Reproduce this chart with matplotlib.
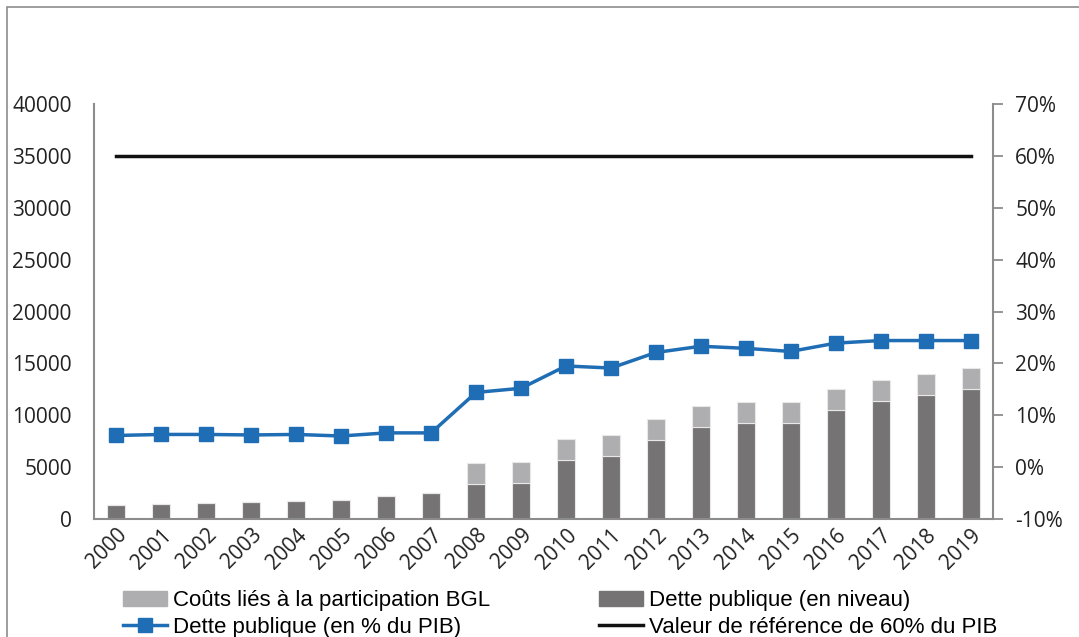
import matplotlib
matplotlib.use("Agg")
import matplotlib.pyplot as plt
import matplotlib.ticker as mtick
from matplotlib.patches import Rectangle
from matplotlib.lines import Line2D
import numpy as np

years = [str(y) for y in range(2000, 2020)]
# public debt in level (dark part of the bars)
dette_niveau = [1350, 1450, 1500, 1600, 1730, 1830, 2250, 2500, 3330, 3500,
                5680, 6070, 7570, 8830, 9210, 9210, 10500, 11330, 11910, 12490]
# costs tied to the BGL participation (stacked on top)
couts_bgl = [0, 0, 0, 0, 0, 0, 0, 0, 2030, 2020,
             2060, 2020, 2030, 2060, 2020, 2050, 2020, 2020, 2020, 2020]
# public debt in % of GDP
dette_pib = [6.1, 6.3, 6.3, 6.2, 6.3, 6.0, 6.6, 6.6, 14.4, 15.2,
             19.5, 19.1, 22.1, 23.3, 22.9, 22.3, 23.9, 24.4, 24.4, 24.4]
reference = [60] * len(years)

c_light = "#aeadaf"
c_dark = "#767374"
c_blue = "#1f6db5"
c_axis = "#8c8c8c"
tick_font = "Open Sans"

fig = plt.figure(figsize=(10.79, 6.37), dpi=100)
fig.patches.append(Rectangle((7 / 1079, -0.1), 1.2, 1 - 7 / 637 + 0.1,
                             transform=fig.transFigure, fill=False,
                             edgecolor="#8c8c8c", lw=1.2))

ax = fig.add_axes([94 / 1079, 1 - 519 / 637, (993 - 94) / 1079, (519 - 104) / 637])
x = np.arange(len(years))
ax.bar(x, dette_niveau, width=0.4, color=c_dark, edgecolor="#e8e8e8", lw=0.8, zorder=2)
ax.bar(x, couts_bgl, width=0.4, bottom=dette_niveau, color=c_light,
       edgecolor="#e8e8e8", lw=0.8, zorder=2)
ax.set_ylim(0, 40000)
ax.set_xlim(-0.5, len(years) - 0.5)
ax.set_yticks(range(0, 40001, 5000))
ax.set_xticks(x)
ax.set_xticklabels(years, rotation=45, ha="right", va="top", rotation_mode="anchor",
                   fontsize=15, family=tick_font, color="#222222")
for lab in ax.get_yticklabels():
    lab.set_fontsize(15)
    lab.set_family(tick_font)
    lab.set_color("#222222")
ax.tick_params(axis="y", length=0, pad=16)
ax.tick_params(axis="x", length=0, pad=4)
for s in ["top", "right"]:
    ax.spines[s].set_visible(False)
ax.spines["left"].set_color(c_axis)
ax.spines["bottom"].set_color(c_axis)
ax.spines["left"].set_linewidth(1.5)
ax.spines["bottom"].set_linewidth(1.5)

ax2 = ax.twinx()
ax2.plot(x, reference, color="#111111", lw=2.5, zorder=3)
ax2.plot(x, dette_pib, color=c_blue, lw=2.5, marker="s", markersize=10, zorder=4)
ax2.set_ylim(-10, 70)
ax2.set_yticks(range(-10, 71, 10))
ax2.yaxis.set_major_formatter(mtick.FormatStrFormatter("%d%%"))
for lab in ax2.get_yticklabels():
    lab.set_fontsize(15)
    lab.set_family(tick_font)
    lab.set_color("#222222")
ax2.tick_params(axis="y", length=7, width=1.3, color=c_axis, pad=9)
for s in ["top", "left", "bottom"]:
    ax2.spines[s].set_visible(False)
ax2.spines["right"].set_color(c_axis)
ax2.spines["right"].set_linewidth(1.5)

# legend fills column by column: order so that rows read left to right
h_bgl = Rectangle((0, 0), 1, 1, color=c_light)
h_niveau = Rectangle((0, 0), 1, 1, color=c_dark)
h_pib = Line2D([], [], color=c_blue, lw=2.5, marker="s", markersize=10)
h_ref = Line2D([], [], color="#111111", lw=2.5)
handles = [h_bgl, h_pib, h_niveau, h_ref]
labels = ["Coûts liés à la participation BGL", "Dette publique (en % du PIB)",
          "Dette publique (en niveau)", "Valeur de référence de 60% du PIB"]
fig.legend(handles, labels, ncol=2, loc="center left",
           bbox_to_anchor=(123 / 1079, 1 - 614 / 637),
           frameon=False, handlelength=2.0, handletextpad=0.25, columnspacing=4.9,
           labelspacing=0.25, borderpad=0, borderaxespad=0,
           prop={"family": "Liberation Sans", "size": 16})

fig.savefig("out.png", dpi=100)
